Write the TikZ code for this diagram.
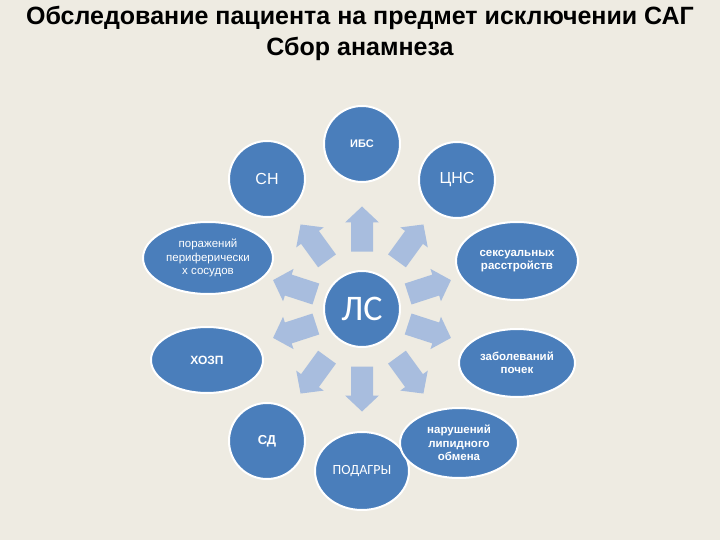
\documentclass[tikz,border=0pt]{standalone}
\usepackage{fontspec}
\usetikzlibrary{shapes.geometric}
\setmainfont{Liberation Sans}
\newfontfamily\calib{Carlito}
\definecolor{bg}{RGB}{238,235,226}
\definecolor{blob}{RGB}{74,126,187}
\definecolor{arr}{RGB}{168,189,222}
\begin{document}
\begin{tikzpicture}[x=1pt,y=-1pt,
  blobc/.style={circle, fill=blob, draw=white, line width=2pt, minimum size=#1, inner sep=0pt, text=white, align=center},
  blobe/.style 2 args={ellipse, fill=blob, draw=white, line width=2pt, minimum width=#1, minimum height=#2, inner sep=0pt, text=white, align=center},
  small/.style={font=\fontsize{11.5}{13.5}\selectfont},
  smallb/.style={font=\bfseries\fontsize{11.5}{13.5}\selectfont},
  ttl/.style={font=\bfseries\fontsize{25}{29}\selectfont, anchor=base, text=black}]
\fill[bg] (0,0) rectangle (720,540);
\useasboundingbox (0,0) rectangle (720,540);
% title
\node[ttl] (t1) at (360,25) {Обследование пациента на предмет исключении САГ};
\node[ttl] (t2) at (360,56) {Сбор анамнеза};
% outer shapes
\node[blobc=76pt, font=\bfseries\fontsize{11}{13}\selectfont] (ibs) at (362,144) {ИБС};
\node[blobc=76pt, font=\fontsize{16}{18}\selectfont] (sn) at (267,179) {СН};
\node[blobc=76pt, font=\fontsize{16}{18}\selectfont] (cns) at (457,180) {ЦНС};
\node[blobe={130pt}{72pt}, small] (por) at (208,258) {поражений\\периферически\\х сосудов};
\node[blobe={122pt}{78pt}, smallb] (sex) at (517,261) {сексуальных\\расстройств};
\node[blobe={112pt}{66pt}, font=\bfseries\fontsize{12}{14}\selectfont] (hozp) at (207,360) {ХОЗП};
\node[blobe={116pt}{68pt}, smallb] (zab) at (517,363) {заболеваний\\почек};
\node[blobc=76pt, font=\bfseries\fontsize{13}{15}\selectfont] (sd) at (267,441) {СД};
\node[blobe={94pt}{78pt}, font=\calib\fontsize{14}{16}\selectfont] (pod) at (362,471) {ПОДАГРЫ};
\node[blobe={118pt}{70pt}, smallb] (nar) at (459,443) {нарушений\\липидного\\обмена};
% centre
\node[blobc=76pt, font=\calib\fontsize{36}{40}\selectfont] (ls) at (362,309) {ЛС};
% arrows
\foreach \a/\d in {90/80, 54/82, 18/71, -18/71, -54/82, -90/80, -126/82, -162/71, 162/71, 126/82} {
  \fill[arr, shift={(ls.center)}, rotate=\a]
    (\d-22.5,-11) -- (\d+6.5,-11) -- (\d+6.5,-17) -- (\d+22.5,0) -- (\d+6.5,17) -- (\d+6.5,11) -- (\d-22.5,11) -- cycle;
}
\end{tikzpicture}
\end{document}
